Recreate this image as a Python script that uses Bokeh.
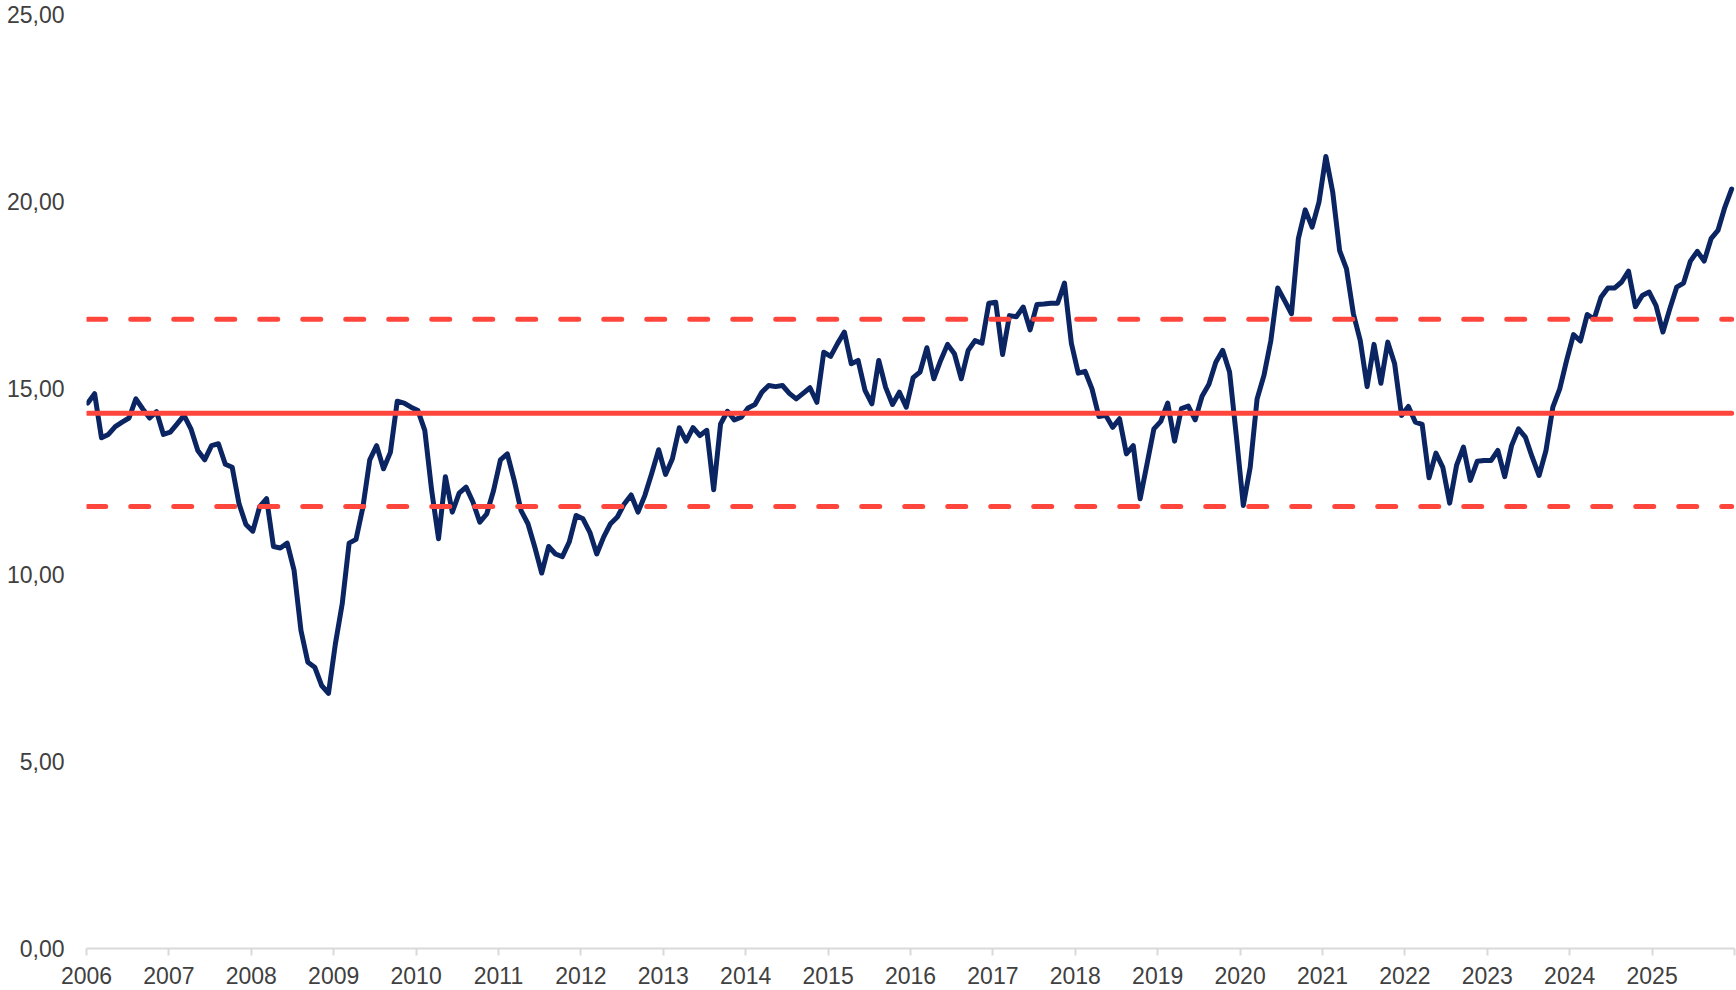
import numpy as np
from bokeh.plotting import figure
from bokeh.models import FixedTicker, CustomJSTickFormatter, Range1d, ColumnDataSource
from bokeh.embed import file_html
from bokeh.resources import INLINE

# ---- data (monthly, Jan 2006 .. Dec 2025) ----
first_date = 2006.015
last_date = 2025.966
values = [
    14.60, 14.85, 13.67, 13.76, 13.97, 14.09, 14.20, 14.71, 14.44, 14.20, 14.37, 13.76,
    13.82, 14.04, 14.27, 13.91, 13.33, 13.08, 13.46, 13.51, 12.96, 12.88, 11.90, 11.35,
    11.17, 11.83, 12.04, 10.76, 10.72, 10.85, 10.12, 8.51, 7.66, 7.53, 7.04, 6.83,
    8.15, 9.23, 10.85, 10.95, 11.81, 13.08, 13.46, 12.84, 13.28, 14.65, 14.60, 14.49,
    14.40, 13.87, 12.26, 10.97, 12.63, 11.68, 12.19, 12.35, 11.95, 11.41, 11.63, 12.26,
    13.08, 13.24, 12.53, 11.72, 11.37, 10.74, 10.05, 10.76, 10.56, 10.49, 10.88, 11.59,
    11.50, 11.14, 10.56, 11.01, 11.37, 11.55, 11.90, 12.14, 11.68, 12.13, 12.72, 13.35,
    12.69, 13.11, 13.94, 13.58, 13.94, 13.73, 13.87, 12.28, 14.04, 14.38, 14.15, 14.22,
    14.47, 14.56, 14.89, 15.07, 15.04, 15.07, 14.86, 14.71, 14.86, 15.01, 14.62, 15.96,
    15.85, 16.19, 16.50, 15.65, 15.74, 14.94, 14.58, 15.74, 15.02, 14.56, 14.89, 14.49,
    15.28, 15.43, 16.08, 15.25, 15.74, 16.17, 15.92, 15.25, 16.01, 16.27, 16.20, 17.27,
    17.30, 15.90, 16.94, 16.91, 17.17, 16.56, 17.24, 17.25, 17.27, 17.27, 17.81, 16.20,
    15.40, 15.45, 14.98, 14.24, 14.27, 13.95, 14.18, 13.24, 13.46, 12.04, 12.97, 13.91,
    14.11, 14.60, 13.58, 14.45, 14.52, 14.15, 14.78, 15.10, 15.69, 16.01, 15.43, 13.69,
    11.86, 12.88, 14.71, 15.34, 16.27, 17.68, 17.34, 16.99, 19.00, 19.77, 19.31, 19.98,
    21.20, 20.24, 18.68, 18.19, 16.99, 16.27, 15.04, 16.17, 15.13, 16.23, 15.65, 14.27,
    14.51, 14.09, 14.03, 12.60, 13.26, 12.88, 11.92, 12.93, 13.42, 12.53, 13.04, 13.06,
    13.06, 13.33, 12.63, 13.46, 13.91, 13.69, 13.15, 12.66, 13.33, 14.49, 14.98, 15.74,
    16.43, 16.26, 16.97, 16.85, 17.43, 17.68, 17.68, 17.84, 18.13, 17.18, 17.48, 17.57,
    17.21, 16.50, 17.12, 17.70, 17.81, 18.40, 18.66, 18.40, 19.00, 19.22, 19.84, 20.33,
]
dates = np.linspace(first_date, last_date, len(values))

mean_value = 14.33
upper_band = 16.84
lower_band = 11.83

y_ticks = [0, 5, 10, 15, 20, 25]
x_ticks = list(range(2006, 2027))

NAVY = "#0b2462"
RED = "#ff463c"
TEXT = "#404040"
AXIS = "#d9d9d9"
FONT = "Liberation Sans"

p = figure(
    width=1736, height=990,
    output_backend="svg", toolbar_location=None,
    x_range=Range1d(2006, 2026), y_range=Range1d(0, 25),
    min_border_left=86, min_border_right=2, min_border_top=14, min_border_bottom=42,
)
p.outline_line_color = None
p.grid.visible = False
p.background_fill_color = "white"
p.border_fill_color = "white"

src = ColumnDataSource(dict(x=dates, y=values))
p.line("x", "y", source=src, line_color=NAVY, line_width=5, line_join="round", line_cap="round")

xs = [dates[0], dates[-1]]
p.line(xs, [mean_value, mean_value], line_color=RED, line_width=5, line_cap="round")
p.line(xs, [upper_band, upper_band], line_color=RED, line_width=5, line_cap="round", line_dash="18 25")
p.line(xs, [lower_band, lower_band], line_color=RED, line_width=5, line_cap="round", line_dash="18 25")

# y axis
ya = p.yaxis[0]
ya.ticker = FixedTicker(ticks=y_ticks, minor_ticks=[])
ya.formatter = CustomJSTickFormatter(code="return tick.toFixed(2).replace('.', ',');")
ya.axis_line_color = None
ya.major_tick_line_color = None
ya.minor_tick_line_color = None
ya.major_tick_out = 0
ya.major_tick_in = 0
ya.major_label_standoff = 22
ya.major_label_text_font = FONT
ya.major_label_text_font_size = "23px"
ya.major_label_text_color = TEXT

# x axis
xa = p.xaxis[0]
xa.ticker = FixedTicker(ticks=x_ticks, minor_ticks=[])
xa.formatter = CustomJSTickFormatter(code="return tick >= 2026 ? '' : String(tick);")
xa.axis_line_color = AXIS
xa.axis_line_width = 2
xa.major_tick_line_color = AXIS
xa.major_tick_line_width = 2
xa.major_tick_out = 7
xa.major_tick_in = 0
xa.minor_tick_line_color = None
xa.major_label_standoff = 11
xa.major_label_text_font = FONT
xa.major_label_text_font_size = "23px"
xa.major_label_text_color = TEXT

open("out.html", "w").write(file_html(p, INLINE))
